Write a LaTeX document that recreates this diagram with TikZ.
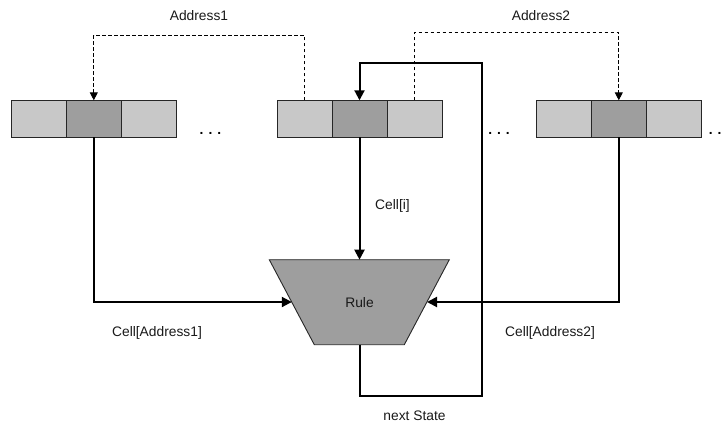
\documentclass[tikz,border=0pt]{standalone}
\usepackage{fontspec}
\setmainfont{Liberation Sans}
\usetikzlibrary{arrows.meta}
\definecolor{lightcell}{HTML}{C8C8C8}
\definecolor{darkcell}{HTML}{9E9E9E}
\begin{document}
\begin{tikzpicture}[x=1pt,y=-1pt,
  cellbox/.style={draw=black!85, line width=0.9pt, minimum width=55pt, minimum height=37pt, inner sep=0pt, outer sep=0pt},
  lightc/.style={cellbox, fill=lightcell},
  darkc/.style={cellbox, fill=darkcell},
  lbl/.style={font=\fontsize{13.8}{16}\selectfont, text=black!90, inner sep=0pt},
  dots/.style={font=\fontsize{13.8}{16}\selectfont\bfseries, inner sep=0pt, anchor=base},
  flow/.style={line width=2pt, -{Triangle[length=10pt,width=10pt]}},
  addr/.style={line width=0.9pt, dash pattern=on 3.5pt off 2.5pt, -{Triangle[length=8pt,width=8pt]}},
  rulebox/.style={draw=black!85, line width=0.9pt, fill=darkcell}]
\useasboundingbox (0,0) rectangle (724,423);
% group 1
\node[lightc] (g1a) at (38.8,118.8) {};
\node[darkc]  (g1b) at (93.8,118.8) {};
\node[lightc] (g1c) at (148.8,118.8) {};
% group 2
\node[lightc] (g2a) at (304.5,118.8) {};
\node[darkc]  (g2b) at (359.5,118.8) {};
\node[lightc] (g2c) at (414.5,118.8) {};
% group 3
\node[lightc] (g3a) at (563.8,118.8) {};
\node[darkc]  (g3b) at (618.8,118.8) {};
\node[lightc] (g3c) at (673.8,118.8) {};
% dots
\node[dots] (d1) at (210.5,134) {.\hspace{5pt}.\hspace{5pt}.};
\node[dots] (d2) at (499,134) {.\hspace{5pt}.\hspace{5pt}.};
\node[dots] (d3) at (719.5,134) {.\hspace{5pt}.\hspace{5pt}.};
% rule (inverted trapezium)
\coordinate (rTL) at (269.3,259.7);
\coordinate (rTR) at (449.3,259.7);
\coordinate (rBR) at (404.3,344.7);
\coordinate (rBL) at (314.3,344.7);
\draw[rulebox] (rTL) -- (rTR) -- (rBR) -- (rBL) -- cycle;
\node[lbl] (rule) at (359.5,302.2) {Rule};
\coordinate (rtop) at (359.5,259.7);
\coordinate (rbot) at (359.5,344.7);
\coordinate (rleft) at (291.8,302);
\coordinate (rright) at (427.0,302);
% labels
\node[lbl] (la1) at (199,16) {Address1};
\node[lbl] (la2) at (541,16) {Address2};
\node[lbl] (lci) at (392.5,206) {Cell[i]};
\node[lbl] (lc1) at (157,333) {Cell[Address1]};
\node[lbl] (lc2) at (550,333) {Cell[Address2]};
\node[lbl] (lns) at (414.5,415.5) {next State};
% coordinates for loop
\coordinate (loopA) at (482,396);
\coordinate (loopB) at (482,63.3);
% connectors
\draw[addr] (g2a.north) -- ++(0,-65.3) -| (g1b.north);
\draw[addr] (g2c.north) -- ++(0,-68) -| (g3b.north);
\draw[flow] (g2b.south) -- (rtop);
\draw[flow] (g1b.south) |- (rleft);
\draw[flow] (g3b.south) |- (rright);
\draw[flow] (rbot) |- (loopA) -- (loopB) -| (g2b.north);
\end{tikzpicture}
\end{document}
